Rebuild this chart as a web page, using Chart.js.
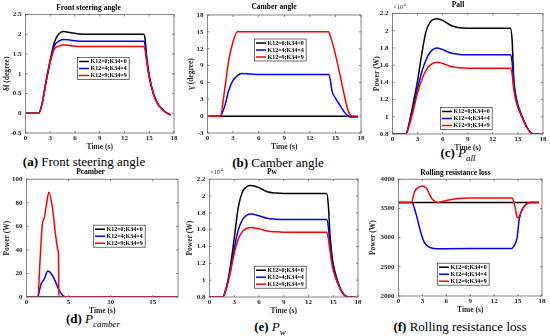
<!DOCTYPE html>
<html lang="en">
<head>
<meta charset="UTF-8">
<title>Steering, camber angle and power</title>
<script src="https://cdn.jsdelivr.net/npm/chart.js"></script>
<style>
  body { margin: 0; background: #fff; width: 550px; height: 336px; position: relative; overflow: hidden; font-family: "Liberation Serif", serif; }
  canvas { position: absolute; }
  .cap { position: absolute; font-size: 13px; color: #000; white-space: nowrap; transform: translate(-50%, -50%); }
  .cap sub { font-size: 9px; font-style: italic; }
</style>
</head>
<body>

<div class="cap" style="left:84px;top:162px"><b>(a)</b> Front steering angle</div>
<div class="cap" style="left:278px;top:163px"><b>(b)</b> Camber angle</div>
<div class="cap" style="left:458px;top:154px"><b>(c)</b> <i>P</i><sub>all</sub></div>
<div class="cap" style="left:93px;top:320px"><b>(d)</b> <i>P</i><sub>camber</sub></div>
<div class="cap" style="left:270px;top:328px"><b>(e)</b> <i>P</i><sub>w</sub></div>
<div class="cap" style="left:460px;top:327px"><b>(f)</b> Rolling resistance loss</div>

<script>
// legend names and colours, same for every panel
const seriesNames = ['K12=0;K34=0', 'K12=4;K34=4', 'K12=9;K34=9'];
const seriesColors = ['#000000', '#0000ff', '#ff0000'];

// (a) front steering angle (degree)
const timeA = [0, 1.6, 2, 2.5, 3, 3.5, 4, 4.6, 5.5, 7, 9, 12, 14.3, 14.45, 14.7, 15, 15.5, 16, 16.5, 17, 17.6];
const steerK0 = [0, 0, 0.23, 0.82, 1.35, 1.8, 2.0, 2.07, 2.04, 2.0, 2.0, 2.0, 2.0, 1.95, 1.4, 0.95, 0.5, 0.25, 0.12, 0.02, -0.04];
const steerK4 = [0, 0, 0.23, 0.81, 1.32, 1.71, 1.82, 1.87, 1.85, 1.82, 1.82, 1.82, 1.82, 1.78, 1.35, 0.92, 0.5, 0.25, 0.12, 0.02, -0.04];
const steerK9 = [0, 0, 0.23, 0.8, 1.3, 1.63, 1.7, 1.73, 1.71, 1.69, 1.69, 1.69, 1.69, 1.65, 1.3, 0.9, 0.5, 0.25, 0.12, 0.02, -0.04];

// (b) camber angle (degree)
const timeB = [0, 1.5, 2, 2.5, 3, 3.5, 4, 5, 6, 9, 12, 14.2, 14.4, 14.6, 15, 15.5, 16, 16.5, 17, 17.6];
const camberK0 = [0, 0, 0, 0, 0, 0, 0, 0, 0, 0, 0, 0, 0, 0, 0, 0, 0, 0, 0, 0];
const camberK4 = [0, 0, 1.7, 4.6, 6.4, 7.2, 7.6, 7.5, 7.4, 7.4, 7.4, 7.4, 6.5, 4.5, 3.2, 2.0, 0.8, 0.0, -0.2, -0.2];
const camberK9 = [0, 0, 4.6, 10, 13.3, 15, 15, 15, 15, 15, 15, 15, 14.3, 13.3, 11.0, 7.6, 4.0, 0.9, -0.15, -0.2];

// (c) Pall (W)
const timeC = [0, 1.6, 2, 2.5, 3, 3.5, 4, 4.5, 5.3, 6, 7, 8, 9, 14.1, 14.3, 14.5, 14.8, 15.2, 15.6, 16, 16.5, 17, 17.7];
const pallK0 = [8000, 8000, 9300, 11700, 14200, 17300, 19900, 21000, 21400, 21200, 20600, 20350, 20300, 20300, 19000, 14500, 12200, 10800, 9800, 8900, 8200, 8000, 8000];
const pallK4 = [8000, 8000, 9100, 11000, 13300, 15200, 16600, 17500, 18000, 17800, 17400, 17250, 17200, 17200, 16400, 13800, 12000, 10700, 9800, 8900, 8200, 8000, 8000];
const pallK9 = [8000, 8000, 9000, 10800, 12800, 14300, 15400, 16000, 16350, 16200, 15850, 15700, 15650, 15650, 15000, 13200, 11700, 10600, 9700, 8900, 8200, 8000, 8000];

// (d) Pcamber (W)
const timeD0 = [0, 18];
const pcamK0 = [0, 0];
const timeD4 = [0, 1.35, 1.55, 1.75, 2.06, 2.54, 3.06, 3.45, 3.85, 4.25, 4.64, 18];
const pcamK4 = [0, 0, 6, 11.5, 14.5, 22, 18.5, 13, 6, 1.7, 0, 0];
const timeD9 = [0, 1.35, 1.6, 1.87, 2.14, 2.4, 2.66, 3.06, 3.45, 3.73, 3.8, 3.84, 18];
const pcamK9 = [0, 0, 30, 61, 68, 80, 89, 77, 53, 40, 36, 0, 0];

// (e) Pw (W)
const timeE = [0, 1.6, 2, 2.5, 3, 3.5, 4, 4.5, 5, 6, 7, 8, 9, 14.2, 14.4, 14.6, 14.9, 15.2, 15.6, 16, 16.5, 17, 17.7];
const pwK0 = [8000, 8000, 9000, 11400, 15000, 18700, 20500, 21100, 21250, 21000, 20500, 20350, 20300, 20300, 19000, 15500, 12500, 11000, 9700, 8700, 8100, 8000, 8000];
const pwK4 = [8000, 8000, 8900, 11000, 13800, 16000, 17200, 17700, 17850, 17650, 17350, 17250, 17200, 17200, 16400, 14200, 12000, 10700, 9600, 8700, 8100, 8000, 8000];
const pwK9 = [8000, 8000, 8900, 10800, 13200, 14900, 15800, 16150, 16250, 16100, 15850, 15750, 15700, 15700, 15000, 13500, 11600, 10500, 9500, 8700, 8100, 8000, 8000];

// (f) rolling resistance loss (W)
const timeF0 = [0, 17.6];
const rollK0 = [3600, 3600];
const timeF4 = [0, 1.7, 2.0, 2.35, 2.77, 3.19, 3.6, 4.03, 4.87, 6, 9, 14.2, 14.45, 14.86, 15.15, 15.57, 15.99, 16.4, 17.6];
const rollK4 = [3600, 3600, 3500, 3330, 3100, 2930, 2860, 2825, 2808, 2810, 2812, 2815, 2850, 2985, 3320, 3500, 3566, 3600, 3600];
const timeF9 = [0, 1.6, 2.0, 2.35, 2.98, 3.52, 3.94, 4.24, 4.87, 6.1, 7.4, 9, 14.25, 14.45, 14.7, 14.9, 15.15, 15.57, 16.0, 16.4, 17.6];
const rollK9 = [3600, 3600, 3780, 3845, 3885, 3840, 3725, 3655, 3600, 3640, 3670, 3680, 3680, 3620, 3470, 3340, 3360, 3500, 3566, 3600, 3600];

const FONT = 'Liberation Serif';
Chart.defaults.font.family = FONT;

// box around the axes with small inward ticks (matlab look)
const framePlugin = {
  id: 'frame',
  afterDatasetsDraw(chart) {
    const { ctx, chartArea: a, scales } = chart;
    ctx.save();
    ctx.strokeStyle = '#666';
    ctx.lineWidth = 0.8;
    ctx.strokeRect(a.left, a.top, a.right - a.left, a.bottom - a.top);
    ctx.beginPath();
    scales.x.ticks.forEach(t => {
      const px = scales.x.getPixelForValue(t.value);
      ctx.moveTo(px, a.bottom); ctx.lineTo(px, a.bottom - 2);
      ctx.moveTo(px, a.top); ctx.lineTo(px, a.top + 2);
    });
    scales.y.ticks.forEach(t => {
      const py = scales.y.getPixelForValue(t.value);
      ctx.moveTo(a.left, py); ctx.lineTo(a.left + 2, py);
      ctx.moveTo(a.right, py); ctx.lineTo(a.right - 2, py);
    });
    ctx.stroke();
    ctx.restore();
  }
};

// legend box placed inside the plot, plus the x10^4 multiplier
const boxLegend = {
  id: 'boxLegend',
  afterDraw(chart, args, opts) {
    const { ctx, chartArea: a } = chart;
    const ds = chart.data.datasets;
    ctx.save();
    ctx.font = 'bold 6px "' + FONT + '"';
    const tw = Math.max(...ds.map(d => ctx.measureText(d.label).width));
    const x0 = a.left + opts.dx, y0 = a.top + opts.dy;
    const rowH = 7, w = 14 + tw + 1.5, h = rowH * ds.length + 1;
    ctx.fillStyle = '#fff';
    ctx.fillRect(x0, y0, w, h);
    ctx.strokeStyle = '#333';
    ctx.lineWidth = 0.7;
    ctx.strokeRect(x0, y0, w, h);
    ds.forEach((d, i) => {
      const cy = y0 + 4 + i * rowH;
      ctx.strokeStyle = d.borderColor;
      ctx.lineWidth = 1.5;
      ctx.beginPath();
      ctx.moveTo(x0 + 1.5, cy); ctx.lineTo(x0 + 11.5, cy);
      ctx.stroke();
      ctx.fillStyle = '#000';
      ctx.textBaseline = 'middle';
      ctx.fillText(d.label, x0 + 13, cy);
    });
    if (opts.exp) {
      ctx.fillStyle = '#262626';
      ctx.textBaseline = 'alphabetic';
      ctx.font = '6px "' + FONT + '"';
      ctx.fillText('\u00d710', a.left + 1, a.top - 5);
      const ew = ctx.measureText('\u00d710').width;
      ctx.font = '4.5px "' + FONT + '"';
      ctx.fillText('4', a.left + 1 + ew + 0.5, a.top - 8);
    }
    ctx.restore();
  }
};

const panels = [
  { title: 'Front steering angle', yTitle: '\u03b4f (degree)', area: [25, 14, 173, 132], yOff: 18, gap: 6,
    y: [-0.5, 2.5, 0.5], xStep: 3, leg: [52, 43], div: 1,
    series: [[timeA, steerK0], [timeA, steerK4], [timeA, steerK9]] },
  { title: 'Camber angle', yTitle: '\u03b3 (degree)', area: [207, 15, 360, 133], yOff: 16, gap: 7.5,
    y: [-3, 18, 3], xStep: 3, leg: [47, 24], div: 1,
    series: [[timeB, camberK0], [timeB, camberK4], [timeB, camberK9]] },
  { title: 'Pall', yTitle: 'Power (W)', area: [392, 13, 542, 133], yOff: 15, gap: 8,
    y: [8000, 22000, 2000], xStep: 3, leg: [48, 94], div: 1e4, exp: true,
    series: [[timeC, pallK0], [timeC, pallK4], [timeC, pallK9]] },
  { title: 'Pcamber', yTitle: 'Power (W)', area: [26, 179, 177, 297], yOff: 19, gap: 6.7,
    y: [0, 100, 20], xStep: 5, leg: [67, 46], div: 1,
    series: [[timeD0, pcamK0], [timeD4, pcamK4], [timeD9, pcamK9]] },
  { title: 'Pw', yTitle: 'Power (W)', area: [209, 179, 357, 297], yOff: 19, gap: 6.7,
    y: [8000, 22000, 2000], xStep: 3, leg: [45, 87], div: 1e4, exp: true,
    series: [[timeE, pwK0], [timeE, pwK4], [timeE, pwK9]] },
  { title: 'Rolling resistance loss', yTitle: 'Power (W)', area: [398, 179, 541, 296], yOff: 25, gap: 5.7,
    y: [2000, 4000, 500], xStep: 3, leg: [39, 84], div: 1,
    series: [[timeF0, rollK0], [timeF4, rollK4], [timeF9, rollK9]] }
];

function makePanel(p) {
  const [L, T, R, B] = p.area;
  const yW = p.yOff + 4.5;
  const titleH = p.gap + 5.5;
  const xH = 19;
  const left = L - yW, top = T - titleH;
  const cv = document.createElement('canvas');
  cv.width = Math.round(R - left + 5);
  cv.height = Math.round(B - top + xH);
  cv.style.left = left + 'px';
  cv.style.top = top + 'px';
  document.body.appendChild(cv);

  const tickFont = { family: FONT, size: 7, weight: 'bold', lineHeight: 1.2 };
  const titleFont = { family: FONT, size: 7.5, weight: 'bold', lineHeight: 1.2 };

  new Chart(cv, {
    type: 'line',
    data: {
      datasets: p.series.map((s, i) => ({
        label: seriesNames[i],
        data: s[0].map((t, j) => ({ x: t, y: s[1][j] })),
        borderColor: seriesColors[i],
        backgroundColor: seriesColors[i],
        borderWidth: 1.5,
        pointRadius: 0,
        cubicInterpolationMode: 'monotone',
        order: 2 - i
      }))
    },
    options: {
      responsive: false,
      animation: false,
      layout: { padding: { left: 0, top: 0, right: 5, bottom: 0 } },
      plugins: {
        legend: { display: false },
        tooltip: { enabled: false },
        title: {
          display: true, text: p.title, color: '#000',
          font: { family: FONT, size: 7.5, weight: 'bold', lineHeight: 1.2 },
          padding: { top: 1, bottom: p.gap - 4.5 }
        },
        boxLegend: { dx: p.leg[0], dy: p.leg[1], exp: !!p.exp }
      },
      scales: {
        x: {
          type: 'linear', min: 0, max: 18,
          ticks: { stepSize: p.xStep, includeBounds: false, padding: 1, font: tickFont, color: '#262626', maxRotation: 0, autoSkip: false },
          grid: { display: false, drawTicks: false },
          border: { display: false },
          title: { display: true, text: 'Time (s)', color: '#262626', font: titleFont, padding: 0 },
          afterFit: s => { s.height = xH; }
        },
        y: {
          min: p.y[0], max: p.y[1],
          ticks: { stepSize: p.y[2], padding: 4, font: tickFont, color: '#262626', autoSkip: false,
            callback: v => String(+(v / p.div).toFixed(3)) },
          grid: { display: false, drawTicks: false },
          border: { display: false },
          title: { display: true, text: p.yTitle, color: '#262626', font: titleFont, padding: 0 },
          afterFit: s => { s.width = yW; }
        }
      }
    },
    plugins: [framePlugin, boxLegend]
  });
}

panels.forEach(makePanel);
</script>
</body>
</html>
